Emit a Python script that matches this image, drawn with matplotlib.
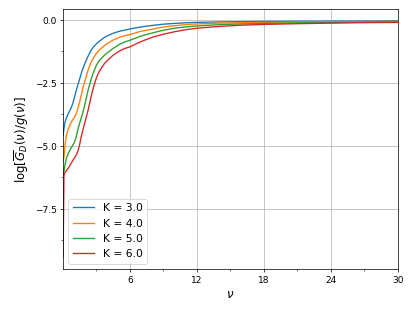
import matplotlib
matplotlib.use("Agg")
import matplotlib.pyplot as plt
from matplotlib.ticker import MultipleLocator, AutoMinorLocator

nu = [0.02, 0.1, 0.2, 0.3, 0.45, 0.6, 0.75, 0.9, 1.05, 1.2, 1.35, 1.5, 1.65, 1.8,
      2.0, 2.25, 2.5, 2.75, 3.0, 3.25, 3.5, 3.75, 4.0, 4.5, 5.0, 5.5, 6.0, 7.0,
      8.0, 9.0, 10.0, 11.0, 12.0, 14.0, 16.0, 18.0, 21.0, 24.0, 27.0, 30.0]

k3 = [-4.6, -4.3, -4.05, -3.9, -3.75, -3.62, -3.48, -3.3, -3.05, -2.8, -2.57,
      -2.35, -2.12, -1.92, -1.7, -1.45, -1.22, -1.07, -0.95, -0.85, -0.77, -0.69,
      -0.63, -0.53, -0.46, -0.41, -0.36, -0.28, -0.22, -0.17, -0.14, -0.115,
      -0.1, -0.08, -0.07, -0.06, -0.055, -0.05, -0.045, -0.04]
k4 = [-5.6, -5.45, -4.93, -4.62, -4.38, -4.2, -4.06, -3.95, -3.85, -3.72, -3.5,
      -3.26, -2.98, -2.68, -2.38, -2.0, -1.7, -1.5, -1.33, -1.2, -1.1, -1.01,
      -0.93, -0.8, -0.7, -0.63, -0.58, -0.45, -0.37, -0.28, -0.23, -0.19,
      -0.16, -0.13, -0.11, -0.1, -0.085, -0.075, -0.065, -0.06]
k5 = [-6.15, -6.0, -5.72, -5.52, -5.33, -5.19, -5.07, -4.96, -4.84, -4.62, -4.34,
      -4.1, -3.88, -3.66, -3.3, -2.8, -2.4, -2.07, -1.8, -1.62, -1.5, -1.39,
      -1.3, -1.13, -0.99, -0.88, -0.81, -0.64, -0.52, -0.41, -0.33, -0.28,
      -0.24, -0.19, -0.16, -0.14, -0.12, -0.1, -0.09, -0.08]
k6 = [-9.4, -6.15, -6.05, -5.98, -5.9, -5.8, -5.68, -5.57, -5.47, -5.36, -5.2,
      -4.95, -4.62, -4.35, -4.02, -3.6, -3.1, -2.65, -2.3, -2.05, -1.87, -1.72,
      -1.6, -1.4, -1.25, -1.14, -1.07, -0.86, -0.69, -0.57, -0.47, -0.39,
      -0.33, -0.26, -0.21, -0.18, -0.15, -0.13, -0.11, -0.1]

K_values = [3.0, 4.0, 5.0, 6.0]
curves = [k3, k4, k5, k6]

fig = plt.figure(figsize=(6.4, 4.8), dpi=64.84)
ax = fig.add_axes([0.152, 0.135, 0.807, 0.836])

for K, vals in zip(K_values, curves):
    ax.plot(nu, vals, label="K = %.1f" % K)

ax.set_xlim(nu[0], 30)
ax.set_ylim(-9.88, 0.44)
ax.xaxis.set_major_locator(MultipleLocator(6))
ax.xaxis.set_minor_locator(AutoMinorLocator(2))
ax.yaxis.set_major_locator(MultipleLocator(2.5))
ax.yaxis.set_minor_locator(AutoMinorLocator(2))
ax.grid(True)
ax.set_xlabel(r"$\nu$", fontsize=13)
ax.set_ylabel(r"$\log[\overline{G}_D(\nu)/g(\nu)]$", fontsize=13)
ax.legend(loc="lower left", fontsize=12)

fig.savefig("out.png", dpi=64.84)
